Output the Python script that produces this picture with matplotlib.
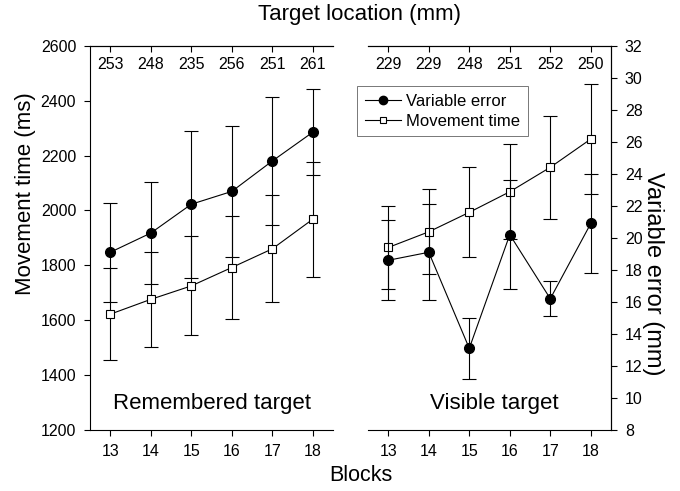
import matplotlib
matplotlib.use('Agg')
import matplotlib.pyplot as plt
from matplotlib.lines import Line2D

plt.rcParams['font.family'] = ['Liberation Sans', 'DejaVu Sans']

blocks = [13, 14, 15, 16, 17, 18]
loc_remembered = ['253', '248', '235', '256', '251', '261']   # target location labels along the top
loc_visible = ['229', '229', '248', '251', '252', '250']

# movement time (ms) and variable error (mm), with error bar half-lengths
mt_remembered = [1622, 1676, 1725, 1792, 1860, 1968]
mt_remembered_err = [167, 173, 180, 188, 195, 210]
ve_remembered = [19.1, 20.3, 22.1, 22.9, 24.8, 26.6]
ve_remembered_err = [3.1, 3.2, 4.6, 4.1, 4.0, 2.7]

mt_visible = [1865, 1922, 1993, 2068, 2157, 2260]
mt_visible_err = [151, 155, 164, 173, 187, 199]
ve_visible = [18.6, 19.1, 13.1, 20.2, 16.2, 20.9]
ve_visible_err = [2.5, 3.0, 1.9, 3.4, 1.1, 3.1]

fig = plt.figure(figsize=(6.8, 4.91), dpi=100)
ax1 = fig.add_axes([0.1324, 0.1242, 0.3574, 0.7827])
ax2 = fig.add_axes([0.5412, 0.1242, 0.3574, 0.7827])
ax1b = ax1.twinx()
ax2b = ax2.twinx()

lw = 0.8
tick_fs = 11.5
ebar = dict(color='black', lw=lw, elinewidth=lw, capsize=5, capthick=lw)

def draw_panel(ax, axb, mt, mt_err, ve, ve_err):
	ax.errorbar(blocks, mt, yerr=mt_err, marker='s', ms=5.5, mfc='white', mec='black', mew=lw, zorder=3, **ebar)
	axb.errorbar(blocks, ve, yerr=ve_err, marker='o', ms=7, mfc='black', mec='black', zorder=3, **ebar)
	for a in (ax, axb):
		a.set_xlim(12.5, 18.5)
	ax.set_ylim(1200, 2600)
	axb.set_ylim(8, 32)
	ax.set_xticks(blocks)
	ax.tick_params(axis='both', direction='out', length=4, width=lw, labelsize=tick_fs, pad=6)
	# short inward ticks on the top edge
	top = ax.secondary_xaxis('top')
	top.set_xticks(blocks)
	top.tick_params(direction='in', length=4, width=lw, labeltop=False)
	top.spines['top'].set_linewidth(lw)
	for sp in ax.spines.values():
		sp.set_linewidth(lw)
	for sp in axb.spines.values():
		sp.set_visible(False)

draw_panel(ax1, ax1b, mt_remembered, mt_remembered_err, ve_remembered, ve_remembered_err)
draw_panel(ax2, ax2b, mt_visible, mt_visible_err, ve_visible, ve_visible_err)

# left panel: ms axis on the left only
ax1.spines['right'].set_visible(False)
ax1.set_yticks(range(1200, 2601, 200))
ax1b.set_yticks([])

# right panel: mm axis on the right only
ax2.spines['left'].set_visible(False)
ax2.set_yticks([])
ax2b.spines['right'].set_visible(True)
ax2b.spines['right'].set_linewidth(lw)
ax2b.set_yticks(range(8, 33, 2))
ax2b.tick_params(axis='y', direction='out', length=4, width=lw, labelsize=tick_fs, pad=6)

for ax, locs in ((ax1, loc_remembered), (ax2, loc_visible)):
	for b, t in zip(blocks, locs):
		ax.text(b, 0.95, t, transform=ax.get_xaxis_transform(), ha='center', va='center', fontsize=tick_fs)

ax1.text(0.5, 0.068, 'Remembered target', transform=ax1.transAxes, ha='center', va='center', fontsize=16)
ax2.text(0.52, 0.068, 'Visible target', transform=ax2.transAxes, ha='center', va='center', fontsize=16)

fig.text(0.528, 0.97, 'Target location (mm)', ha='center', va='center', fontsize=16)
fig.text(0.531, 0.032, 'Blocks', ha='center', va='center', fontsize=15.5)
fig.text(0.037, 0.606, 'Movement time (ms)', rotation=90, ha='center', va='center', fontsize=16)
fig.text(0.960, 0.442, 'Variable error (mm)', rotation=270, ha='center', va='center', fontsize=17)

handles = [Line2D([], [], color='black', lw=lw, marker='o', ms=6, mfc='black'),
	Line2D([], [], color='black', lw=lw, marker='s', ms=5, mfc='white', mew=lw)]
leg = ax2b.legend(handles, ['Variable error', 'Movement time'], loc='upper left', bbox_to_anchor=(-0.045, 0.895),
	fontsize=12, frameon=True, fancybox=False, handlelength=2.2, handletextpad=0.3, borderpad=0.45, labelspacing=0.3, borderaxespad=0)
leg.get_frame().set_edgecolor('#555555')
leg.get_frame().set_linewidth(0.7)

fig.savefig('out.png', dpi=100)
